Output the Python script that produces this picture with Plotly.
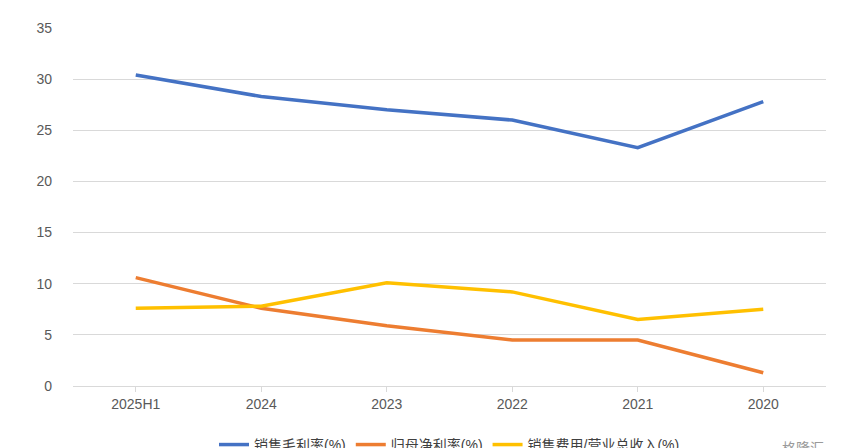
import plotly.graph_objects as go

categories = ["2025H1", "2024", "2023", "2022", "2021", "2020"]
gross_margin = [30.4, 28.3, 27.0, 26.0, 23.3, 27.8]
net_margin = [10.6, 7.6, 5.9, 4.5, 4.5, 1.3]
sales_expense = [7.6, 7.8, 10.1, 9.2, 6.5, 7.5]

fig = go.Figure()
for name, vals, col in [
    ("销售毛利率(%)", gross_margin, "#4472C4"),
    ("归母净利率(%)", net_margin, "#ED7D31"),
    ("销售费用/营业总收入(%)", sales_expense, "#FFC000"),
]:
    fig.add_trace(go.Scatter(x=categories, y=vals, name=name, mode="lines",
                             line=dict(color=col, width=3.5)))

fig.update_layout(
    width=842, height=448, margin=dict(l=65, r=24, t=20, b=70, autoexpand=False),
    plot_bgcolor="white", paper_bgcolor="white",
    font=dict(family="Liberation Sans, Noto Sans CJK SC", size=14, color="#595959"),
    legend=dict(orientation="h", x=0.5, xanchor="center", y=-0.12, yanchor="top",
                font=dict(size=14, color="#404040")),
    xaxis=dict(showline=True, linecolor="#D9D9D9", ticks="outside", tickcolor="#D9D9D9",
               ticklen=5, showgrid=False, range=[-0.5, 5.5]),
    yaxis=dict(range=[0, 35], dtick=5, gridcolor="#D9D9D9", zeroline=False,
               showline=False, ticklabelstandoff=20),
)
fig.add_annotation(text="格隆汇", x=1.0, y=-0.2, xref="paper", yref="paper",
                   xanchor="right", yanchor="bottom", showarrow=False,
                   font=dict(size=14, color="#9a9a9a"))
fig.write_html("out.html")
